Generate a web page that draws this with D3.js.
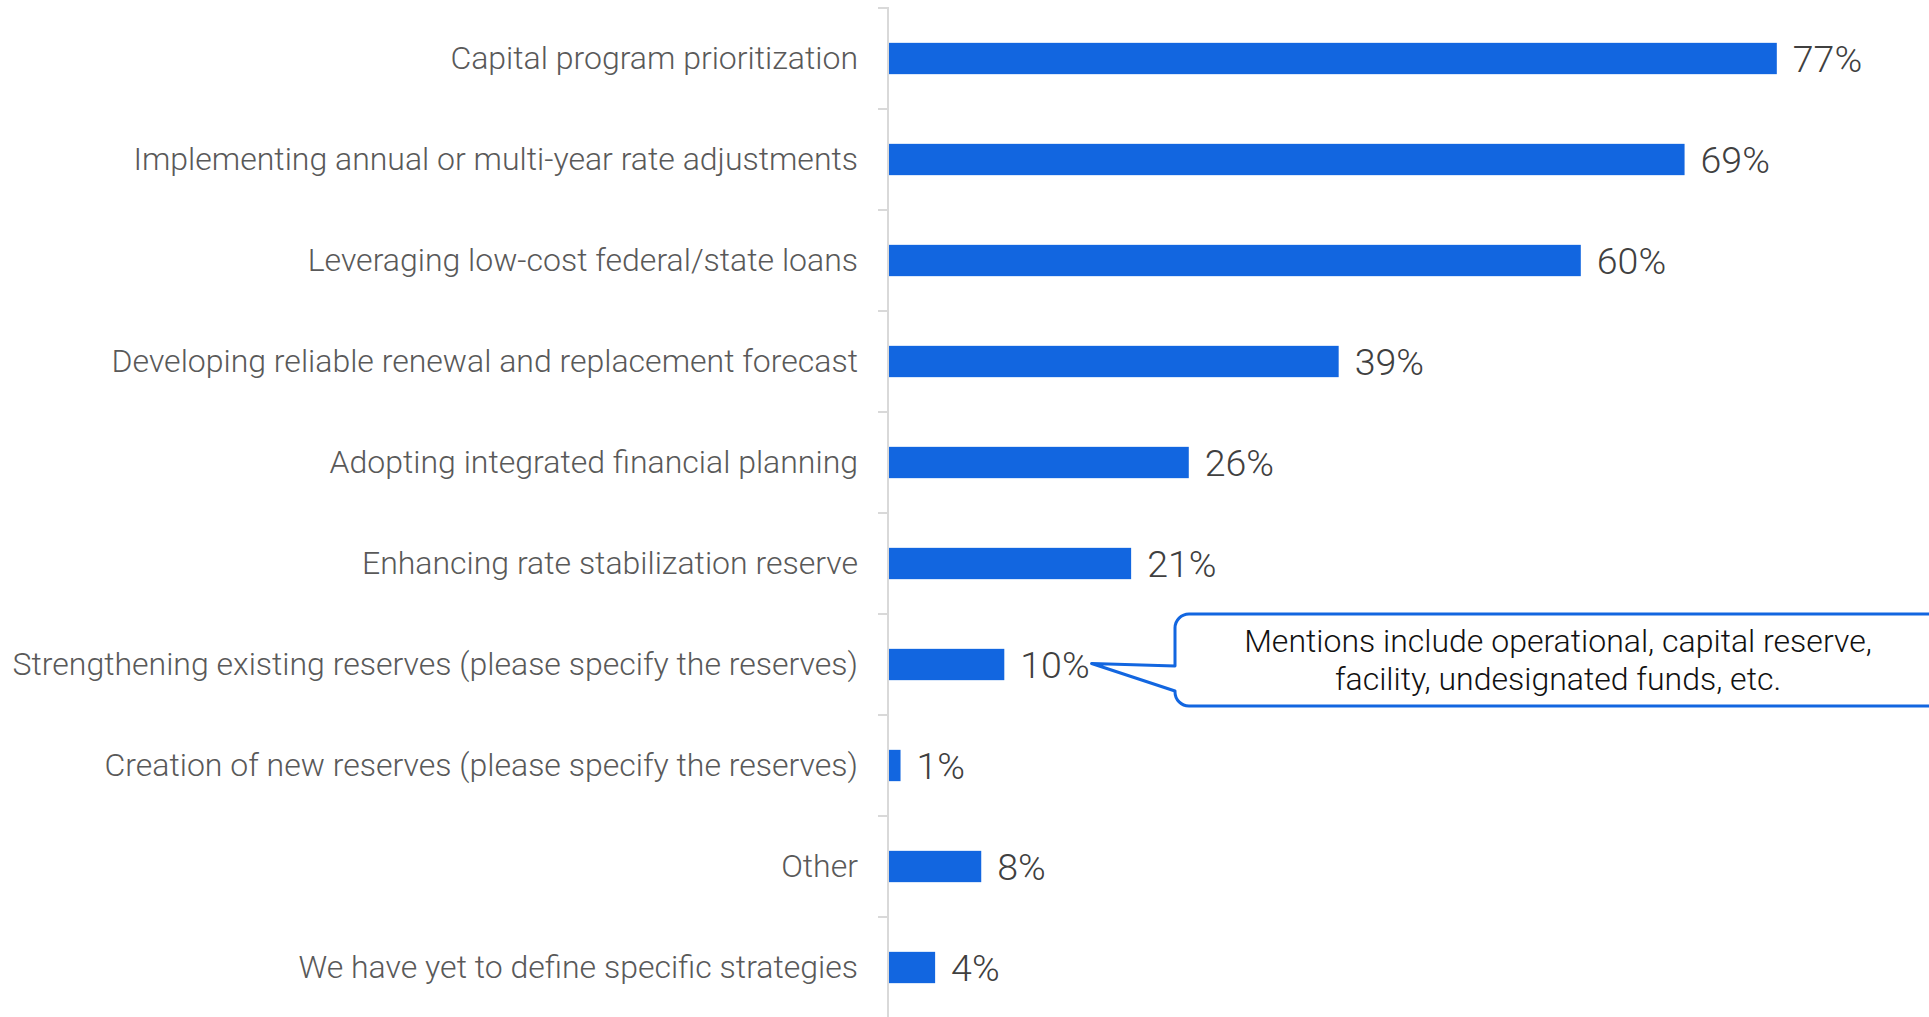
<!DOCTYPE html>
<meta charset="utf-8">
<head>
  <title>Financial strategies</title>
  <script src="https://d3js.org/d3.v7.min.js"></script>
  <style>
    body {
      margin: 0;
      background-color: white;
      font-family: Roboto, "Open Sans", sans-serif;
    }
    .bar {
      fill: #1266e0;
    }
    .cat {
      font-size: 32px;
      font-weight: 300;
      fill: #595959;
    }
    .val {
      font-size: 37.5px;
      font-weight: 300;
      fill: #404040;
    }
    .note {
      font-size: 32px;
      font-weight: 300;
      fill: #111;
    }
  </style>
</head>
<body>
<script>
  var categories = [
    "Capital program prioritization",
    "Implementing annual or multi-year rate adjustments",
    "Leveraging low-cost federal/state loans",
    "Developing reliable renewal and replacement forecast",
    "Adopting integrated financial planning",
    "Enhancing rate stabilization reserve",
    "Strengthening existing reserves (please specify the reserves)",
    "Creation of new reserves (please specify the reserves)",
    "Other",
    "We have yet to define specific strategies"
  ];
  var values = [77, 69, 60, 39, 26, 21, 10, 1, 8, 4];
  var noteLines = [
    "Mentions include operational, capital reserve,",
    "facility, undesignated funds, etc."
  ];
  var noteFor = "Strengthening existing reserves (please specify the reserves)";

  var data = categories.map(function(c, i) {
    return { cat: c, value: values[i] };
  });

  var width = 1929, height = 1017;
  var margin = { top: 8, left: 889 };

  var svg = d3.select("body").append("svg")
    .attr("width", width)
    .attr("height", height);

  var x = d3.scaleLinear()
    .domain([0, 100])
    .range([margin.left, margin.left + 1153]);

  // full bands (tick marks sit on their edges)
  var yBand = d3.scaleBand()
    .domain(categories)
    .range([margin.top, margin.top + 1010]);

  // bars inside the bands
  var y = d3.scaleBand()
    .domain(categories)
    .range([margin.top, margin.top + 1010])
    .paddingInner(0.69)
    .paddingOuter(0.345);

  // axis line and ticks
  svg.append("line")
    .attr("x1", margin.left - 1).attr("x2", margin.left - 1)
    .attr("y1", margin.top - 1).attr("y2", height)
    .attr("stroke", "#d9d9d9").attr("stroke-width", 2);

  svg.selectAll(".tick")
    .data(categories)
    .enter().append("line")
    .attr("class", "tick")
    .attr("x1", margin.left - 11).attr("x2", margin.left - 1)
    .attr("y1", function(d) { return yBand(d); })
    .attr("y2", function(d) { return yBand(d); })
    .attr("stroke", "#d9d9d9").attr("stroke-width", 2);

  svg.selectAll(".bar")
    .data(data)
    .enter().append("rect")
    .attr("class", "bar")
    .attr("x", x(0))
    .attr("y", function(d) { return y(d.cat); })
    .attr("height", y.bandwidth())
    .attr("width", function(d) { return x(d.value) - x(0); });

  svg.selectAll(".cat")
    .data(data)
    .enter().append("text")
    .attr("class", "cat")
    .attr("x", margin.left - 31)
    .attr("y", function(d) { return y(d.cat) + y.bandwidth() / 2; })
    .attr("dy", "0.33em")
    .attr("text-anchor", "end")
    .text(function(d) { return d.cat; });

  var vals = svg.selectAll(".val")
    .data(data)
    .enter().append("text")
    .attr("class", "val")
    .attr("x", function(d) { return x(d.value) + 16; })
    .attr("y", function(d) { return y(d.cat) + y.bandwidth() / 2; })
    .attr("dy", "0.36em")
    .text(function(d) { return d.value + "%"; });

  // callout
  var target = vals.filter(function(d) { return d.cat === noteFor; }).node();
  var bb = target.getBBox();
  var tipX = bb.x + bb.width + 2;
  var tipY = y(noteFor) + y.bandwidth() / 2 - 1;

  var bx = 1175, by = 614, bw = 800, bh = 92, r = 14;
  var j1 = 666, j2 = 691;
  var p = d3.path();
  p.moveTo(bx + r, by);
  p.lineTo(bx + bw, by);
  p.lineTo(bx + bw, by + bh);
  p.lineTo(bx + r, by + bh);
  p.arcTo(bx, by + bh, bx, by + bh - r, r);
  p.lineTo(bx, j2);
  p.lineTo(tipX, tipY);
  p.lineTo(bx, j1);
  p.lineTo(bx, by + r);
  p.arcTo(bx, by, bx + r, by, r);
  p.closePath();

  svg.append("path")
    .attr("d", p.toString())
    .attr("fill", "white")
    .attr("stroke", "#1266e0")
    .attr("stroke-width", 3)
    .attr("stroke-linejoin", "round");

  svg.selectAll(".note")
    .data(noteLines)
    .enter().append("text")
    .attr("class", "note")
    .attr("x", 1558)
    .attr("y", function(d, i) { return 652 + i * 38; })
    .attr("text-anchor", "middle")
    .text(function(d) { return d; });
</script>
</body>
</html>
